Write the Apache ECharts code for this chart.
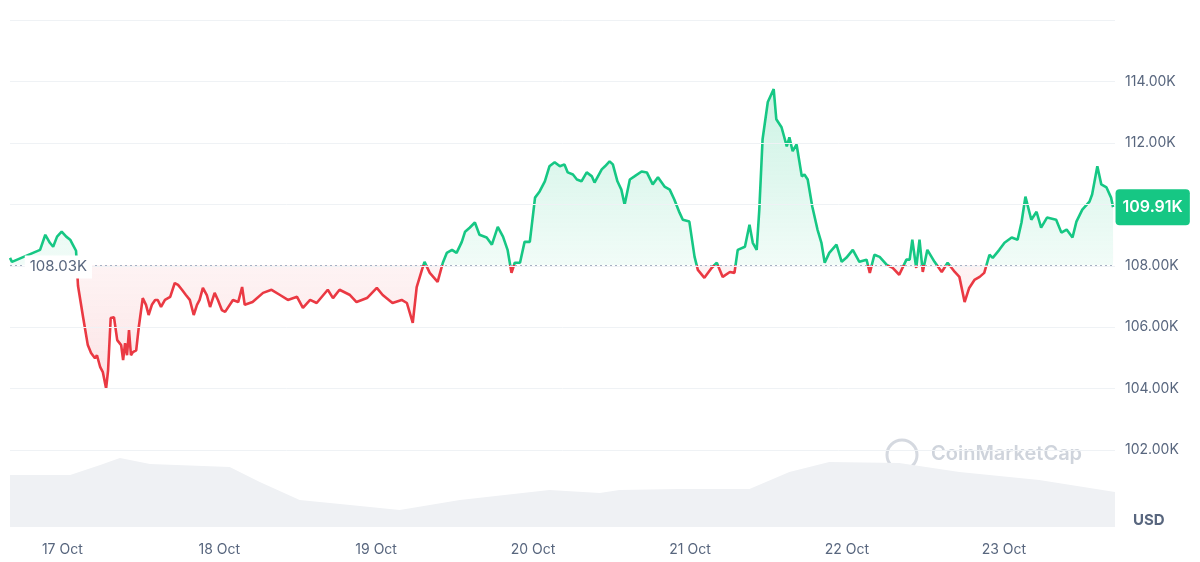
<!DOCTYPE html>
<html>
<head>
<meta charset="utf-8">
<script src="https://cdn.jsdelivr.net/npm/echarts@6/dist/echarts.min.js"></script>
<style>html,body{margin:0;padding:0;background:#fff}#c{width:1200px;height:562px}</style>
</head>
<body>
<div id="c"></div>
<script>
// hours since 16 Oct 16:00, price in K USD
const hours = [0,0.3,4.6,5.4,6.1,6.6,7.2,7.9,8.6,9.2,9.6,10.1,10.4,11.2,11.9,12.4,13.0,13.3,13.8,14.2,14.7,15.0,15.4,15.9,16.4,17.0,17.3,17.6,17.9,18.2,18.5,18.8,19.3,19.7,20.3,20.8,21.2,21.7,22.2,22.6,23.1,23.7,24.5,25.2,25.7,26.3,26.9,27.5,28.1,28.6,29.0,29.5,30.1,30.6,31.3,31.8,32.4,32.9,34.1,34.9,35.5,35.9,37.1,38.7,40.0,41.3,42.5,43.9,44.8,45.9,46.9,48.6,49.4,50.4,52.0,53.0,54.6,56.1,57.0,58.5,59.9,60.7,61.6,62.2,63.0,63.4,64.2,65.4,66.2,66.8,67.6,68.3,69.1,69.6,70.3,71.1,71.8,72.9,73.7,74.6,75.4,76.1,76.7,77.2,78.0,78.7,79.5,80.3,81.0,81.8,82.5,83.3,84.1,84.8,85.3,86.1,86.7,87.4,88.2,89.0,89.4,90.5,91.0,91.7,92.2,92.9,93.5,94.0,94.8,95.5,96.6,97.4,98.3,99.1,100.1,100.9,101.6,102.4,102.9,103.9,104.7,105.2,106.2,107.3,108.1,109.0,110.1,110.8,111.3,112.4,113.1,113.6,114.2,114.6,115.1,115.9,116.8,117.2,118.0,118.8,119.2,119.7,120.3,121.1,121.5,122.0,122.7,123.5,124.1,124.6,125.3,126.4,127.2,127.9,128.9,129.9,131.0,131.5,132.2,133.0,134.1,135.0,136.0,137.1,137.6,138.0,138.6,139.1,139.6,140.3,141.4,142.5,143.4,144.5,145.2,146.0,146.7,147.5,148.3,149.0,149.8,150.3,151.3,152.1,153.2,154.1,154.7,155.3,156.2,157.0,157.7,158.6,160.0,160.8,161.6,162.5,163.1,164.0,165.1,165.5,166.3,166.9,167.7,168.4,168.7];
const prices = [108.26,108.13,108.52,109.01,108.75,108.62,108.95,109.11,108.95,108.85,108.69,108.49,107.35,106.30,105.42,105.16,104.99,105.09,104.70,104.54,104.01,104.60,106.30,106.33,105.58,105.42,104.93,105.48,105.09,105.91,105.09,105.19,105.25,106.01,106.95,106.73,106.40,106.73,106.89,106.89,106.66,106.89,106.99,107.44,107.38,107.22,107.05,106.89,106.40,106.73,106.89,107.28,107.05,106.66,107.12,106.89,106.56,106.50,106.89,106.82,107.31,106.73,106.82,107.12,107.22,107.05,106.89,106.99,106.63,106.89,106.79,107.22,106.95,107.22,107.05,106.82,106.95,107.28,107.05,106.79,106.89,106.79,106.14,107.31,107.87,108.13,107.77,107.48,108.10,108.42,108.52,108.42,108.78,109.11,109.24,109.41,109.01,108.92,108.69,109.27,108.95,108.52,107.77,108.10,108.10,108.78,108.78,110.22,110.42,110.75,111.24,111.37,111.24,111.30,111.04,110.97,110.81,110.75,111.04,110.91,110.71,111.14,111.24,111.40,111.30,110.75,110.48,109.99,110.81,110.91,111.07,111.04,110.65,110.88,110.58,110.48,110.16,109.73,109.50,109.44,108.29,107.87,107.61,107.93,108.10,107.64,107.80,107.77,108.52,108.62,109.34,108.75,108.52,109.83,112.12,113.33,113.75,112.77,112.51,111.89,112.18,111.73,111.95,110.91,110.97,110.81,109.93,109.18,108.75,108.10,108.42,108.69,108.13,108.26,108.52,108.13,108.20,107.77,108.36,108.29,108.03,107.93,107.71,108.20,108.20,108.85,107.93,108.85,107.80,108.52,108.13,107.80,108.10,107.80,107.64,106.82,107.28,107.54,107.64,107.77,108.36,108.26,108.52,108.75,108.92,108.85,109.41,110.25,109.50,109.76,109.24,109.57,109.50,109.08,109.18,108.92,109.44,109.83,110.09,110.32,111.24,110.65,110.55,110.22,109.91];
const volHours = [0,9.2,13.8,16.8,21.4,33.6,38.2,44.3,52,59.6,68.8,82.5,90.2,93.2,102.4,113.1,119.2,125.3,136,145.2,157.4,169];
const volumes = [52,52,62,69,63,60,45,27,22,17,27,37,34,37,38,38,55,65,64,55,47,35];
const dayLabels = ['17 Oct','18 Oct','19 Oct','20 Oct','21 Oct','22 Oct','23 Oct'];
const yTicks = [102,104,106,108,110,112,114];
const baseline = 108.03;
const current = 109.91;

const GREEN = '#16c784', RED = '#ea3943';
const Y_MIN = 99.5, Y_MAX = 116, TOP = 20, BOTTOM = 35;
const cut = (Y_MAX - baseline) / (Y_MAX - Y_MIN);
const split = (a, b) => ({
  type: 'linear', x: 0, y: TOP, x2: 0, y2: 562 - BOTTOM, global: true,
  colorStops: [{offset: 0, color: a[0]}, {offset: cut, color: a[1]}, {offset: cut, color: b[0]}, {offset: 1, color: b[1]}]
});

const chart = echarts.init(document.getElementById('c'));
chart.setOption({
  animation: false,
  grid: {left: 10, right: 85, top: TOP, bottom: BOTTOM},
  xAxis: {
    type: 'value', min: 0, max: 169, interval: 8,
    axisLine: {show: false}, axisTick: {show: false}, splitLine: {show: false},
    axisLabel: {
      margin: 16, color: '#58667e', fontSize: 14, fontFamily: 'Inter',
      formatter: v => ((v - 8) % 24 === 0 && v >= 8) ? dayLabels[(v - 8) / 24] : ''
    }
  },
  yAxis: [{
    type: 'value', min: Y_MIN, max: Y_MAX, interval: 0.5, position: 'right',
    axisLine: {show: false}, axisTick: {show: false}, splitLine: {show: false},
    axisLabel: {
      margin: 10, color: '#58667e', fontSize: 14, fontFamily: 'Inter',
      formatter: v => yTicks.includes(v) ? v.toFixed(2) + 'K' : ''
    }
  }, {
    type: 'value', min: 0, max: 507, show: false
  }],
  series: [{
    type: 'line', yAxisIndex: 1, symbol: 'none', silent: true,
    data: volHours.map((h, i) => [h, volumes[i]]),
    lineStyle: {width: 0}, areaStyle: {color: '#eff1f4', opacity: 1}, z: 1
  }, {
    type: 'line', symbol: 'none', z: 3,
    data: hours.map((h, i) => [h, prices[i]]),
    lineStyle: {width: 2.6, color: split([GREEN, GREEN], [RED, RED])},
    areaStyle: {origin: baseline, opacity: 1,
      color: split(['rgba(22,199,132,0.28)', 'rgba(22,199,132,0.06)'], ['rgba(234,57,67,0.06)', 'rgba(234,57,67,0.22)'])},
    markLine: {
      silent: true, symbol: 'none', label: {show: false},
      data: yTicks.concat([116]).map(v => ({yAxis: v, lineStyle: {color: '#eff2f5', type: 'solid', width: 1}}))
        .concat([{yAxis: baseline, lineStyle: {color: '#a6b0c3', type: [2, 3], width: 1}}])
    },
    markPoint: {
      silent: true, symbol: 'rect', symbolSize: 1, itemStyle: {color: 'rgba(0,0,0,0)'},
      data: [{
        coord: [7.4, baseline],
        label: {show: true, formatter: baseline.toFixed(2) + 'K', color: '#58667e', fontSize: 15,
          fontFamily: 'Inter', backgroundColor: '#fff', padding: [4, 5], offset: [0, 2]}
      }, {
        coord: [hours[hours.length - 1], current],
        label: {show: true, position: 'right', distance: 2, formatter: current.toFixed(2) + 'K',
          color: '#fff', fontSize: 16, fontWeight: 600, fontFamily: 'Inter',
          backgroundColor: GREEN, padding: [10, 7], borderRadius: 4}
      }]
    }
  }],
  graphic: [{
    type: 'text', left: 1133, top: 513,
    style: {text: 'USD', fill: '#58667e', font: 'bold 15px Inter'}
  }, {
    type: 'circle', shape: {cx: 902, cy: 455, r: 15},
    style: {fill: 'none', stroke: '#d5d9e0', lineWidth: 3}
  }, {
    type: 'text', left: 931, top: 444,
    style: {text: 'CoinMarketCap', fill: '#cfd4dc', font: '600 20px Inter'}
  }]
});
</script>
</body>
</html>
